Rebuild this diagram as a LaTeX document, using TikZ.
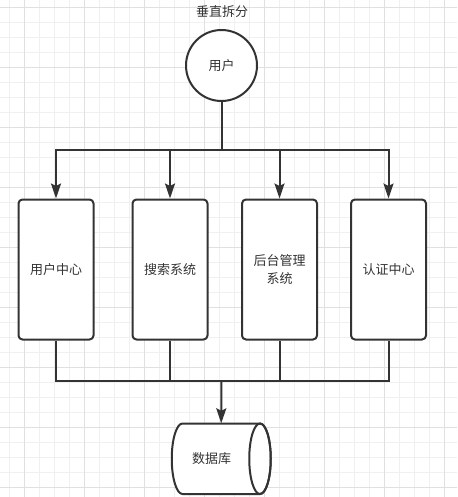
\documentclass[tikz,border=0pt]{standalone}
\usepackage{fontspec}
\setmainfont{Noto Sans CJK SC}
\usetikzlibrary{arrows.meta}
\definecolor{ink}{HTML}{333333}
\definecolor{gminor}{HTML}{F0F0F0}
\definecolor{gmajor}{HTML}{E0E0E0}
\tikzset{
  box/.style={draw=ink, line width=2pt, fill=white, rounded corners=4pt,
    minimum width=75pt, minimum height=140pt, inner sep=0pt, align=center,
    font=\fontsize{13}{17.5}\selectfont, text=ink},
  usercircle/.style={draw=ink, line width=2pt, fill=white, circle,
    minimum size=71pt, inner sep=0pt, font=\fontsize{13}{17.5}\selectfont, text=ink},
  conn/.style={draw=ink, line width=2pt},
  arr/.style={conn, -{Stealth[length=15pt,width=10pt,inset=2.5pt]}},
  lbl/.style={font=\fontsize{13}{17.5}\selectfont, text=ink, inner sep=0pt},
}
\begin{document}
\begin{tikzpicture}[x=1pt,y=-1pt]
\useasboundingbox (0,0) rectangle (457,497);
\fill[white] (0,0) rectangle (457,497);
% grid
\foreach \i in {0,...,29} \draw[gminor, line width=1pt] (9.5+15*\i,0) -- (9.5+15*\i,497);
\foreach \j in {0,...,32} \draw[gminor, line width=1pt] (0,7.5+15*\j) -- (457,7.5+15*\j);
\foreach \i in {0,...,7} \draw[gmajor, line width=1pt] (24.5+60*\i,0) -- (24.5+60*\i,497);
\foreach \j in {0,...,8} \draw[gmajor, line width=1pt] (0,7.5+60*\j) -- (457,7.5+60*\j);

% title
\node[lbl] (title) at (222,12) {垂直拆分};

% user
\node[usercircle] (user) at (221.5,65.5) {用户};

% boxes
\node[box] (b1) at (56,269.5) {用户中心};
\node[box] (b2) at (170,269.5) {搜索系统};
\node[box] (b3) at (279.5,269.5) {后台管理\\系统};
\node[box] (b4) at (388.5,269.5) {认证中心};

% database
\node[minimum width=99pt, minimum height=70.5pt, inner sep=0pt] (db) at (221.2,458.75) {};
\filldraw[draw=ink, fill=white, line width=2pt]
  (182.5,423.5) -- (260,423.5)
  arc[start angle=270, end angle=450, x radius=10.75, y radius=35.25]
  -- (182.5,494)
  arc[start angle=90, end angle=270, x radius=10.75, y radius=35.25]
  -- cycle;
\draw[ink, line width=2pt] (260,458.75) ellipse [x radius=10.75, y radius=35.25];
\node[lbl] (dbl) at (211.5,458.5) {数据库};

% bus coordinates
\coordinate (bt) at (221.5,150);
\coordinate (bb) at (221.5,381);

% top connectors
\draw[conn] (user.south) -- (bt);
\draw[arr] (bt) -| (b1.north);
\draw[arr] (bt) -| (b4.north);
\draw[arr] (bt -| b2.north) -- (b2.north);
\draw[arr] (bt -| b3.north) -- (b3.north);

% bottom connectors
\draw[conn] (b1.south) |- (bb) -| (b4.south);
\draw[conn] (b2.south) -- (b2.south |- bb);
\draw[conn] (b3.south) -- (b3.south |- bb);
\draw[arr] (bb) -- (db.north);
\end{tikzpicture}
\end{document}
